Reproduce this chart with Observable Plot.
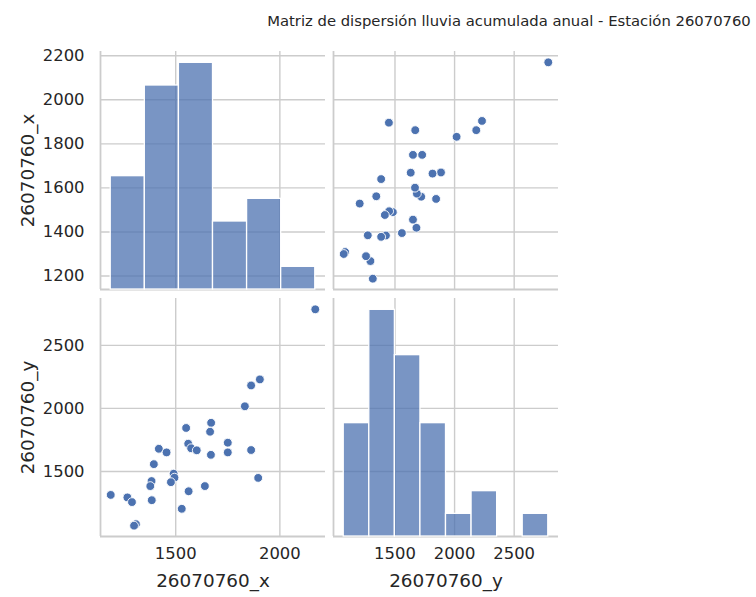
<!DOCTYPE html>
<html>
<head>
<meta charset="utf-8">
<script src="https://cdn.jsdelivr.net/npm/d3@7"></script>
<script src="https://cdn.jsdelivr.net/npm/@observablehq/plot@0.6"></script>
<style>
  html, body { margin: 0; padding: 0; background: #fff; }
  #chart { position: relative; width: 756px; height: 597px; overflow: hidden; background: #fff;
           font-family: "DejaVu Sans", sans-serif; }
  .panel { position: absolute; }
  .panel svg { max-width: none !important; display: block; }
  #title { position: absolute; left: 509px; top: 14px; transform: translateX(-50%); white-space: nowrap;
           font-size: 14.8px; line-height: 14.8px; color: #262626; }
</style>
</head>
<body>
<div id="chart">
  <div id="title">Matriz de dispersión lluvia acumulada anual - Estación 26070760</div>
</div>
<script>
// ---- data ----
const varNames = ["26070760_x", "26070760_y"];
const station_x = [2170, 1904, 1862, 1832, 1670, 1550, 1665, 1750, 1560, 1574, 1601, 1750, 1862, 1669, 1419, 1456,
                   1395, 1490, 1494, 1477, 1384, 1378, 1896, 1640, 1562, 1385, 1188, 1268, 1290, 1529, 1309, 1300];
const station_y = [2786, 2230, 2182, 2017, 1886, 1845, 1815, 1728, 1720, 1684, 1668, 1651, 1670, 1632, 1680, 1651,
                   1558, 1482, 1451, 1415, 1424, 1384, 1449, 1384, 1343, 1272, 1314, 1294, 1257, 1204, 1082, 1070];
const binsPerVar = [6, 8];
const ticksHorizX = [1500, 2000];                       // 26070760_x on a horizontal axis
const ticksVertX = [1200, 1400, 1600, 1800, 2000, 2200]; // 26070760_x on a vertical axis
const ticksY = [1500, 2000, 2500];                       // 26070760_y on either axis

const blue = "#4C72B0";
const gridColor = "#cccccc";
const textColor = "#262626";

const rows = station_x.map((v, i) => ({[varNames[0]]: v, [varNames[1]]: station_y[i]}));

function padded(values) {
  const [a, b] = d3.extent(values);
  const r = b - a;
  return [a - 0.05 * r, b + 0.05 * r];
}

const vars = [
  {name: varNames[0], values: station_x, hTicks: ticksHorizX, vTicks: ticksVertX, bins: binsPerVar[0]},
  {name: varNames[1], values: station_y, hTicks: ticksY, vTicks: ticksY, bins: binsPerVar[1]}
];
vars.forEach(v => { v.domain = padded(v.values); });

// panel geometry
const colLeft = [99.5, 333];
const rowTop = [51, 298];
const PW = 225, PH = 238;

const chart = document.getElementById("chart");
const fmt = d => String(d);

function place(svg, left, top) {
  const div = document.createElement("div");
  div.className = "panel";
  div.style.left = left + "px";
  div.style.top = top + "px";
  div.appendChild(svg);
  chart.appendChild(div);
}

for (let r = 0; r < 2; r++) {
  for (let c = 0; c < 2; c++) {
    const cv = vars[c], rv = vars[r];
    const ml = c === 0 ? 100 : 2, mr = 14, mt = 6, mb = r === 1 ? 62 : 2;
    const W = PW + ml + mr, H = PH + mt + mb;
    const style = {background: "transparent", fontFamily: "'DejaVu Sans', sans-serif",
                   fontSize: "16.4px", color: textColor, overflow: "visible", maxWidth: "none"};
    const marks = [
      Plot.gridX(cv.hTicks, {stroke: gridColor, strokeOpacity: 1, strokeWidth: 1.4}),
      Plot.gridY(rv.vTicks, {stroke: gridColor, strokeOpacity: 1, strokeWidth: 1.4}),
      Plot.ruleX([cv.domain[0]], {stroke: gridColor, strokeWidth: 1.8}),
      Plot.ruleY([rv.domain[0]], {stroke: gridColor, strokeWidth: 1.8})
    ];
    if (c === 0) {
      marks.push(Plot.axisY(rv.vTicks, {tickSize: 0, tickPadding: 16, label: null, fill: textColor, tickFormat: fmt}));
      marks.push(Plot.text([rv.name], {text: d => d, frameAnchor: "left", dx: -72.5, rotate: -90,
                                       textAnchor: "middle", lineAnchor: "middle",
                                       fontSize: 18.4, fill: textColor}));
    }
    if (r === 1) {
      marks.push(Plot.axisX(cv.hTicks, {tickSize: 0, tickPadding: 11, label: null, fill: textColor, tickFormat: fmt}));
      marks.push(Plot.text([cv.name], {text: d => d, frameAnchor: "bottom", dy: 45,
                                       textAnchor: "middle", lineAnchor: "middle",
                                       fontSize: 18.4, fill: textColor}));
    }
    if (r !== c) {
      marks.push(Plot.dot(rows, {x: cv.name, y: rv.name, r: 4.4, fill: blue, fillOpacity: 1,
                                 stroke: "white", strokeWidth: 0.9}));
    }
    const gridSvg = Plot.plot({
      width: W, height: H, marginLeft: ml, marginRight: mr, marginTop: mt, marginBottom: mb,
      x: Object.assign({domain: cv.domain}, r === 1 ? {} : {axis: null}),
      y: Object.assign({domain: rv.domain}, c === 0 ? {} : {axis: null}),
      style, marks
    });
    place(gridSvg, colLeft[c] - ml, rowTop[r] - mt);

    if (r === c) {
      const ext = d3.extent(cv.values);
      const step = (ext[1] - ext[0]) / cv.bins;
      const thresholds = d3.range(1, cv.bins).map(i => ext[0] + i * step);
      const bins = d3.bin().domain(ext).thresholds(thresholds)(cv.values).filter(b => b.length > 0);
      const maxCount = d3.max(bins, b => b.length);
      const histSvg = Plot.plot({
        width: W, height: H, marginLeft: ml, marginRight: mr, marginTop: mt, marginBottom: mb,
        x: {domain: cv.domain, axis: null},
        y: {domain: [0, maxCount * 1.05], axis: null},
        style,
        marks: [
          Plot.rect(bins, {x1: d => d.x0, x2: d => d.x1, y1: 0, y2: d => d.length,
                           fill: blue, fillOpacity: 0.75, stroke: "white", strokeWidth: 1.3, inset: 0})
        ]
      });
      place(histSvg, colLeft[c] - ml, rowTop[r] - mt);
    }
  }
}
</script>
</body>
</html>
